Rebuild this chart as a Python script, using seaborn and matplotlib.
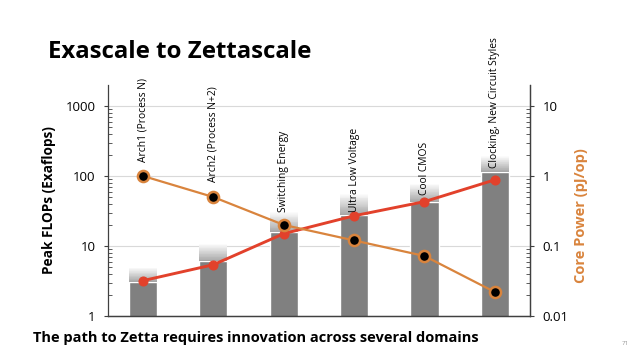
import numpy as np
import matplotlib
matplotlib.use("Agg")
import matplotlib.pyplot as plt
import matplotlib.ticker as ticker
import seaborn as sns

# values
categories = ["Arch1 (Process N)", "Arch2 (Process N+2)", "Switching Energy",
              "Ultra Low Voltage", "Cool CMOS", "Clocking, New Circuit Styles"]
bar_solid = [3.1, 6.1, 16, 28, 43, 115]      # solid grey part of bars
bar_faded = [5.0, 11, 31, 57, 79, 194]       # top of the faded part
peak_flops = [3.2, 5.4, 15, 27, 43, 88]      # red line, left axis
core_power = [1.0, 0.5, 0.2, 0.12, 0.072, 0.022]  # orange line, right axis
label_y = [158, 82, 31, 31, 54, 130]         # where category labels start

left_ticks = [1, 10, 100, 1000]
right_ticks = [0.01, 0.1, 1, 10]

sns.set_theme(style="white")
plt.rcParams['font.family'] = ['Open Sans', 'DejaVu Sans']
plt.rcParams['text.color'] = 'black'
plt.rcParams['ytick.labelcolor'] = 'black'

red = '#e2412b'
orange = '#d9843d'

fig = plt.figure(figsize=(6.42, 3.59), dpi=100)
ax = fig.add_axes([0.168, 0.1198, 0.6575, 0.6435])

x = np.arange(len(categories))

# solid bars
sns.barplot(x=x, y=bar_solid, color='#808080', width=0.4, saturation=1,
            native_scale=True, ax=ax, zorder=2)

# faded part above each bar: stack of thin slices, grey -> white
n_seg = 24
for i in range(len(categories)):
    edges = np.logspace(np.log10(bar_solid[i]), np.log10(bar_faded[i]), n_seg + 1)
    for k in range(n_seg):
        g = 0.66 + 0.34 * (k / (n_seg - 1))
        ax.bar(x[i], edges[k + 1] - edges[k], bottom=edges[k], width=0.4,
               color=(g, g, g), linewidth=0, zorder=2)

# red line on the left axis
sns.lineplot(x=x, y=peak_flops, color=red, linewidth=2.1, marker='o',
             markersize=6.5, markeredgecolor=red, ax=ax, zorder=5)

ax.set_yscale('log')
ax.set_ylim(1, 10 ** 3.3)
ax.set_xlim(-0.5, 5.5)
ax.set_yticks(left_ticks)
ax.yaxis.set_major_formatter(ticker.FuncFormatter(lambda v, p: f'{v:g}'))
ax.yaxis.set_minor_formatter(ticker.NullFormatter())
ax.set_xticks([])
ax.set_xlabel('')
ax.yaxis.grid(True, which='major', color='#d9d9d9', linewidth=0.8)
ax.set_axisbelow(True)
ax.set_ylabel('Peak FLOPs (Exaflops)', fontsize=9.8, fontweight='bold',
              color='black')
ax.yaxis.set_label_coords(-0.124, 0.5)

for i, cat in enumerate(categories):
    ax.text(x[i], label_y[i], cat, rotation=90, ha='center', va='bottom',
            fontsize=7.4, color='black', zorder=6)

# orange line on the right axis
ax2 = ax.twinx()
sns.lineplot(x=x, y=core_power, color=orange, linewidth=1.6, marker='o',
             markersize=8, markerfacecolor='black', markeredgecolor=orange,
             markeredgewidth=1.8, ax=ax2, zorder=4)
ax2.set_yscale('log')
ax2.set_ylim(0.01, 0.01 * 10 ** 3.3)
ax2.set_yticks(right_ticks)
ax2.yaxis.set_major_formatter(ticker.FuncFormatter(lambda v, p: f'{v:g}'))
ax2.yaxis.set_minor_formatter(ticker.NullFormatter())
ax2.set_ylabel('Core Power (pJ/op)', fontsize=10.5, fontweight='bold',
               color=orange)
ax2.yaxis.set_label_coords(1.105, 0.435)
ax2.grid(False)

for a in (ax, ax2):
    a.spines['top'].set_visible(False)
    for side in ('left', 'right', 'bottom'):
        a.spines[side].set_color('#404040')
        a.spines[side].set_linewidth(0.9)
    a.tick_params(axis='y', which='major', direction='out', length=3,
                  width=0.8, color='#404040', labelsize=9.5, pad=6,
                  labelcolor='black', left=(a is ax), right=(a is ax2))
    a.tick_params(axis='y', which='minor', direction='in', length=3,
                  width=0.6, color='#404040',
                  left=(a is ax), right=(a is ax2))
ax2.spines['left'].set_visible(False)

fig.text(48 / 642, 1 - 58 / 359, 'Exascale to Zettascale', fontsize=17.3,
         fontweight='bold', ha='left', va='baseline', color='black')
fig.text(33 / 642, 1 - 342 / 359,
         'The path to Zetta requires innovation across several domains',
         fontsize=10.5, fontweight='bold', ha='left', va='baseline',
         color='black')
fig.text(625 / 642, 1 - 345 / 359, '71', fontsize=4.5, color='#999999',
         ha='center', va='baseline')

fig.savefig('out.png', dpi=100)
